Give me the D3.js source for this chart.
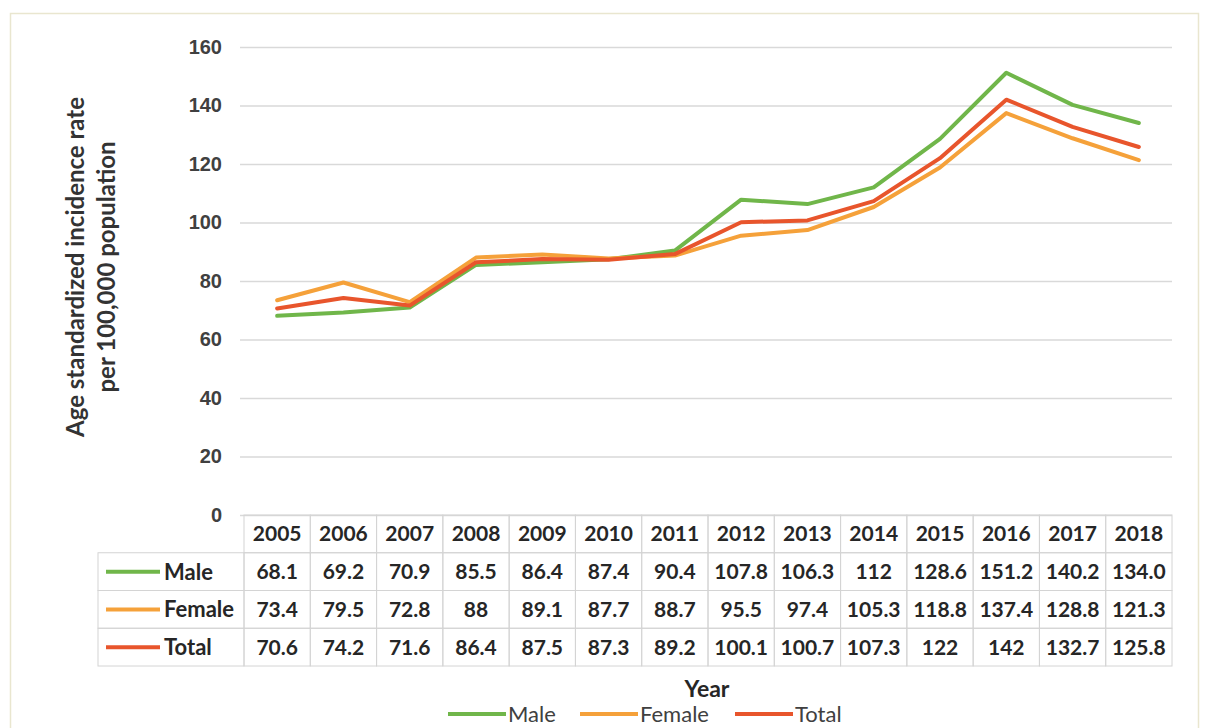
<!DOCTYPE html>
<html>
<head>
<meta charset="utf-8">
<script src="https://cdn.jsdelivr.net/npm/d3@7"></script>
<style>
  html, body { margin: 0; padding: 0; background: #fff; }
  svg { display: block; font-family: Lato, "Open Sans", sans-serif; }
</style>
</head>
<body>
<div id="chart"></div>
<script>
// chart data
var years = ["2005","2006","2007","2008","2009","2010","2011","2012","2013","2014","2015","2016","2017","2018"];
var maleText   = ["68.1","69.2","70.9","85.5","86.4","87.4","90.4","107.8","106.3","112","128.6","151.2","140.2","134.0"];
var femaleText = ["73.4","79.5","72.8","88","89.1","87.7","88.7","95.5","97.4","105.3","118.8","137.4","128.8","121.3"];
var totalText  = ["70.6","74.2","71.6","86.4","87.5","87.3","89.2","100.1","100.7","107.3","122","142","132.7","125.8"];
var seriesNames = ["Male","Female","Total"];
var seriesColors = ["#70b64a","#f5a13a","#e8552c"];
var yTicks = [0,20,40,60,80,100,120,140,160];

var width = 1216, height = 728;

var series = [maleText, femaleText, totalText].map(function(txt, i){
  return {
    name: seriesNames[i],
    color: seriesColors[i],
    text: txt,
    values: txt.map(Number)
  };
});

var svg = d3.select('#chart').append('svg')
            .attr('width', width)
            .attr('height', height);

// outer frame
svg.append('rect')
   .attr('x', 10.5).attr('y', 13.5)
   .attr('width', 1188).attr('height', 740)
   .attr('fill', 'none')
   .attr('stroke', '#e9e6cf')
   .attr('stroke-width', 1.5);

var x = d3.scaleBand().domain(years).range([244, 1172]);
var y = d3.scaleLinear().domain([0, 160]).range([515, 47]);

// gridlines + y labels
var yAxis = svg.append('g')
  .attr('transform', 'translate(240,0)')
  .call(d3.axisLeft(y).tickValues(yTicks).tickSize(-932).tickPadding(18));
yAxis.select('.domain').remove();
yAxis.selectAll('.tick line').attr('stroke', '#d9d9d9').attr('stroke-width', 1.5);
yAxis.selectAll('.tick text')
  .attr('fill', '#404040')
  .style('font-size', '20px')
  .style('font-weight', 'bold');

// y title
var yTitle = svg.append('text')
  .attr('transform', 'translate(84,267) rotate(-90)')
  .attr('text-anchor', 'middle')
  .attr('fill', '#333')
  .style('font-size', '24px')
  .style('font-weight', 'bold');
yTitle.append('tspan').attr('x', 0).attr('dy', 0).text('Age standardized incidence rate');
yTitle.append('tspan').attr('x', 0).attr('dy', 31).text('per 100,000 population');

// lines
var line = d3.line()
  .x(function(d, i){ return x(years[i]) + x.bandwidth() / 2; })
  .y(function(d){ return y(d); });

svg.selectAll('path.series').data(series)
  .enter().append('path')
  .attr('class', 'series')
  .attr('d', function(d){ return line(d.values); })
  .attr('fill', 'none')
  .attr('stroke', function(d){ return d.color; })
  .attr('stroke-width', 4)
  .attr('stroke-linejoin', 'round')
  .attr('stroke-linecap', 'round');

// data table
var rows = d3.scaleBand().domain(['header'].concat(seriesNames)).range([515, 666]);
var grid = '#d4d4d4';
var table = svg.append('g');

// header cells
table.selectAll('rect.hdr').data(years)
  .enter().append('rect')
  .attr('x', function(d){ return x(d); })
  .attr('y', rows('header'))
  .attr('width', x.bandwidth())
  .attr('height', rows.bandwidth())
  .attr('fill', 'none').attr('stroke', grid);

table.selectAll('text.hdr').data(years)
  .enter().append('text')
  .attr('x', function(d){ return x(d) + x.bandwidth() / 2; })
  .attr('y', rows('header') + rows.bandwidth() / 2)
  .attr('dy', '0.36em')
  .attr('text-anchor', 'middle')
  .attr('fill', '#262626')
  .style('font-size', '21px').style('font-weight', 'bold')
  .text(function(d){ return d; });

series.forEach(function(s){
  var ry = rows(s.name);
  // label cell
  table.append('rect')
    .attr('x', 98).attr('y', ry)
    .attr('width', x(years[0]) - 98).attr('height', rows.bandwidth())
    .attr('fill', 'none').attr('stroke', grid);
  table.append('line')
    .attr('x1', 106).attr('x2', 160)
    .attr('y1', ry + rows.bandwidth() / 2).attr('y2', ry + rows.bandwidth() / 2)
    .attr('stroke', s.color).attr('stroke-width', 4);
  table.append('text')
    .attr('x', 164).attr('y', ry + rows.bandwidth() / 2)
    .attr('dy', '0.36em')
    .attr('fill', '#262626')
    .style('font-size', '22px').style('font-weight', 'bold')
    .text(s.name);

  table.selectAll(null).data(years)
    .enter().append('rect')
    .attr('x', function(d){ return x(d); })
    .attr('y', ry)
    .attr('width', x.bandwidth())
    .attr('height', rows.bandwidth())
    .attr('fill', 'none').attr('stroke', grid);

  table.selectAll(null).data(s.text)
    .enter().append('text')
    .attr('x', function(d, i){ return x(years[i]) + x.bandwidth() / 2; })
    .attr('y', ry + rows.bandwidth() / 2)
    .attr('dy', '0.36em')
    .attr('text-anchor', 'middle')
    .attr('fill', '#262626')
    .style('font-size', '21px').style('font-weight', 'bold')
    .text(function(d){ return d; });
});

// x title
svg.append('text')
  .attr('x', 707).attr('y', 697)
  .attr('text-anchor', 'middle')
  .attr('fill', '#262626')
  .style('font-size', '23px').style('font-weight', 'bold')
  .text('Year');

// legend
var legendX = [448, 580, 735];
var legend = svg.selectAll('g.legend').data(series)
  .enter().append('g')
  .attr('class', 'legend')
  .attr('transform', function(d, i){ return 'translate(' + legendX[i] + ',714)'; });
legend.append('line')
  .attr('x1', 0).attr('x2', 58)
  .attr('stroke', function(d){ return d.color; })
  .attr('stroke-width', 4);
legend.append('text')
  .attr('x', 60).attr('dy', '0.36em')
  .attr('fill', '#404040')
  .style('font-size', '22px')
  .text(function(d){ return d.name; });
</script>
</body>
</html>
